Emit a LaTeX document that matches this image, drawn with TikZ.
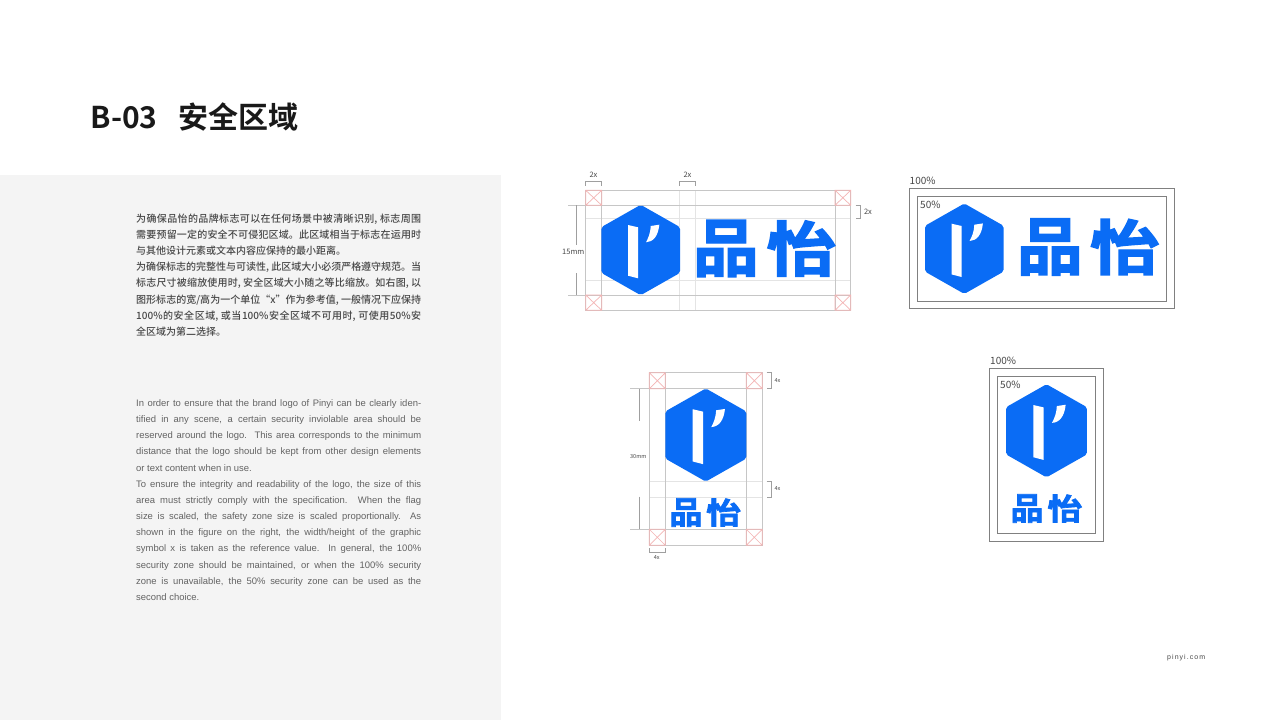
\documentclass[tikz,border=0pt]{standalone}
\usepackage{graphicx}
\usepackage{fontspec}
\setmainfont{Liberation Sans}
\newfontfamily\cjk{Noto Sans CJK SC}
\newfontfamily\cjkmed{Noto Sans CJK SC Medium}
\newfontfamily\logofont[FakeBold=2.2]{Noto Sans CJK SC Bold}
\newfontfamily\titlefont{Noto Sans CJK SC Bold}
\newfontfamily\enfont{Liberation Sans}
\XeTeXlinebreaklocale "zh"
\XeTeXlinebreakskip=0pt plus 1.5pt minus .6pt
\definecolor{panel}{HTML}{F4F4F4}
\definecolor{brand}{HTML}{0A6CF5}
\definecolor{ink}{HTML}{484848}
\definecolor{gridA}{HTML}{C6C6C6}
\definecolor{gridB}{HTML}{E4E4E4}
\definecolor{crossc}{HTML}{F4B4B4}
\definecolor{framec}{HTML}{808080}
\tikzset{
  gridline/.style={draw=gridA,line width=1pt},
  softline/.style={draw=gridB,line width=1pt},
  crossline/.style={draw=crossc,line width=.7pt},
  dimline/.style={draw=gray!75,line width=.8pt},
  framebox/.style={draw=framec,line width=1pt},
  smalltxt/.style={inner sep=0pt,text=ink,font=\cjk\fontsize{7.5}{9}\selectfont},
  tinytxt/.style={inner sep=0pt,text=ink,font=\cjk\fontsize{5.5}{7}\selectfont},
  pcttxt/.style={inner sep=0pt,anchor=west,text=ink,font=\cjk\fontsize{10}{12}\selectfont},
  glyphtxt/.style={inner sep=0pt,text=brand},
  bodytxt/.style={anchor=north west,inner sep=0pt,text width=285pt,align=justify},
}
% hexagon + I mark, centre at #1,#2, scale #3
\newcommand{\hexmark}[3]{%
  \begin{scope}[shift={(#1,#2)},scale=#3]
    \fill[brand,rounded corners=2pt] (0,-45.2)--(39.3,-22.9)--(39.3,22.9)--(0,45.2)--(-39.3,22.9)--(-39.3,-22.9)--cycle;
    \fill[white] (-12.7,-25) -- (-2.7,-22.7) -- (-2.7,28.3) -- (-12.7,25.7) -- cycle;
    \fill[white] (18.6,-25.3) -- (10,-24) .. controls (9.6,-16) and (7.5,-12) .. (5.3,-7.7)
       .. controls (12.5,-8) and (17.5,-14) .. cycle;
  \end{scope}}
\newcommand{\crossbox}[4]{%
  \draw[crossline] (#1,#2) rectangle (#3,#4) (#1,#2)--(#3,#4) (#1,#4)--(#3,#2);}
% glyph at font size #1 with horizontal / vertical scale #2 #3
\newcommand{\lglyph}[4]{\scalebox{#2}[#3]{\logofont\fontsize{#1}{#1}\selectfont #4}}
\begin{document}
\begin{tikzpicture}[x=1pt,y=-1pt]
\useasboundingbox (0,0) rectangle (1280,720);
\fill[white] (0,0) rectangle (1280,720);
\fill[panel] (0,175) rectangle (501,719.5);
\node[anchor=west,inner sep=0pt,text=black!90] (title) at (90.5,117) {\titlefont\fontsize{30}{36}\selectfont B-03\hspace{21pt}安全区域};
\node[bodytxt,text=ink] (zh) at (136,213.5) {%
  \cjkmed\fontsize{10}{16.2}\selectfont\tolerance=10000\hbadness=10000\hfuzz=20pt\parindent=0pt\leftskip=0pt\rightskip=0pt
  为确保品怡的品牌标志可以在任何场景中被清晰识别, 标志周围\linebreak
  需要预留一定的安全不可侵犯区域。此区域相当于标志在运用时\linebreak
  与其他设计元素或文本内容应保持的最小距离。\par
  为确保标志的完整性与可读性, 此区域大小必须严格遵守规范。当\linebreak
  标志尺寸被缩放使用时, 安全区域大小随之等比缩放。如右图, 以\linebreak
  图形标志的宽/高为一个单位“x”作为参考值, 一般情况下应保持\linebreak
  100\%的安全区域, 或当100\%安全区域不可用时, 可使用50\%安\linebreak
  全区域为第二选择。\par};
\node[bodytxt,text=ink!85] (en) at (136,399.3) {%
  \XeTeXlinebreaklocale ""\enfont\fontsize{9.45}{16.17}\selectfont\tolerance=10000\hbadness=10000\hfuzz=20pt\parindent=0pt\hyphenpenalty=10000\leftskip=0pt\rightskip=0pt
  In order to ensure that the brand logo of Pinyi can be clearly iden-\linebreak
  tified in any scene, a certain security inviolable area should be\linebreak
  reserved around the logo.\ \ This area corresponds to the minimum\linebreak
  distance that the logo should be kept from other design elements\linebreak
  or text content when in use.\par
  To ensure the integrity and readability of the logo, the size of this\linebreak
  area must strictly comply with the specification.\ \ When the flag\linebreak
  size is scaled, the safety zone size is scaled proportionally.\ \ As\linebreak
  shown in the figure on the right, the width/height of the graphic\linebreak
  symbol x is taken as the reference value. In general, the 100\%\linebreak
  security zone should be maintained, or when the 100\% security\linebreak
  zone is unavailable, the 50\% security zone can be used as the\linebreak
  second choice.\par};
% --- top-left construction
\draw[softline] (585.7,218.3)--(850.7,218.3) (585.7,280.3)--(850.7,280.3) (679.7,190.3)--(679.7,310.3) (695.3,190.3)--(695.3,310.3);
\draw[gridline] (585.7,190.3) rectangle (850.7,310.3) (601.7,190.3)--(601.7,310.3) (835,190.3)--(835,310.3) (568,205.3)--(850.7,205.3) (568,295)--(850.7,295);
\crossbox{585.7}{190.3}{601.7}{205.3}\crossbox{835}{190.3}{850.7}{205.3}
\crossbox{585.7}{295}{601.7}{310.3}\crossbox{835}{295}{850.7}{310.3}
\draw[dimline] (585.7,185.5)--(585.7,181.7)--(601.7,181.7)--(601.7,185.5)
 (679.7,185.5)--(679.7,181.7)--(695.3,181.7)--(695.3,185.5)
 (855.7,205.3)--(860,205.3)--(860,218.3)--(855.7,218.3)
 (576.7,205.3)--(576.7,245) (576.7,273.3)--(576.7,295);
\node[smalltxt] (a1) at (593.5,174.3) {2x};
\node[smalltxt] (a2) at (687.5,174.3) {2x};
\node[smalltxt] (a3) at (868,211.5) {2x};
\node[smalltxt] (a4) at (573.3,252) {15mm};
\hexmark{640.7}{250}{1}
\node[glyphtxt] (p1) at (726,248.5) {\lglyph{70}{.94}{.9}{品}};
\node[glyphtxt] (y1) at (801.6,248.5) {\lglyph{70}{1}{.85}{怡}};
% --- top-right
\draw[framebox] (909.3,188.7) rectangle (1174.3,308.3);
\draw[framebox] (917.3,196.7) rectangle (1166.7,301);
\node[pcttxt] (b1) at (909.5,181) {100\%};
\node[pcttxt] (b2) at (920,205) {50\%};
\hexmark{964.3}{248.7}{1}
\node[glyphtxt] (p2) at (1050,247) {\lglyph{70}{.94}{.9}{品}};
\node[glyphtxt] (y2) at (1125,247) {\lglyph{70}{1}{.85}{怡}};
% --- bottom-left construction
\draw[softline] (649.3,481.3)--(762.3,481.3) (649.3,497)--(762.3,497);
\draw[gridline] (649.3,372.7) rectangle (762.3,545.3) (665.3,372.7)--(665.3,545.3) (746.3,372.7)--(746.3,545.3) (630,388.7)--(762.3,388.7) (630,529.3)--(762.3,529.3);
\crossbox{649.3}{372.7}{665.3}{388.7}\crossbox{746.3}{372.7}{762.3}{388.7}
\crossbox{649.3}{529.3}{665.3}{545.3}\crossbox{746.3}{529.3}{762.3}{545.3}
\draw[dimline] (766.7,372.7)--(771.7,372.7)--(771.7,388.7)--(766.7,388.7)
 (766.7,481.3)--(771.7,481.3)--(771.7,497)--(766.7,497)
 (649.3,548)--(649.3,552.3)--(665.3,552.3)--(665.3,548)
 (639.3,388.7)--(639.3,420.7) (639.3,496.7)--(639.3,529.3);
\node[tinytxt] (c1) at (777.5,380.7) {4x};
\node[tinytxt] (c2) at (777.5,489) {4x};
\node[tinytxt] (c3) at (656.7,557.7) {4x};
\node[tinytxt] (c4) at (638.3,456.7) {30mm};
\hexmark{705.8}{435}{1.03}
\node[glyphtxt] (p3) at (686,512.5) {\lglyph{35}{.94}{.9}{品}};
\node[glyphtxt] (y3) at (723.7,512.5) {\lglyph{35}{1}{.85}{怡}};
% --- bottom-right
\draw[framebox] (989.7,368.3) rectangle (1103.3,541);
\draw[framebox] (997.7,376.3) rectangle (1095.3,533.3);
\node[pcttxt] (d1) at (990,361) {100\%};
\node[pcttxt] (d2) at (1000,385) {50\%};
\hexmark{1046.5}{430.8}{1.03}
\node[glyphtxt] (p4) at (1027,508.5) {\lglyph{35}{.94}{.9}{品}};
\node[glyphtxt] (y4) at (1065,508.5) {\lglyph{35}{1}{.85}{怡}};
% footer
\node[anchor=west,inner sep=0pt,text=ink] (url) at (1167,658) {\enfont\fontsize{7}{9}\selectfont\addfontfeatures{LetterSpace=15}pinyi.com};
\end{tikzpicture}
\end{document}
